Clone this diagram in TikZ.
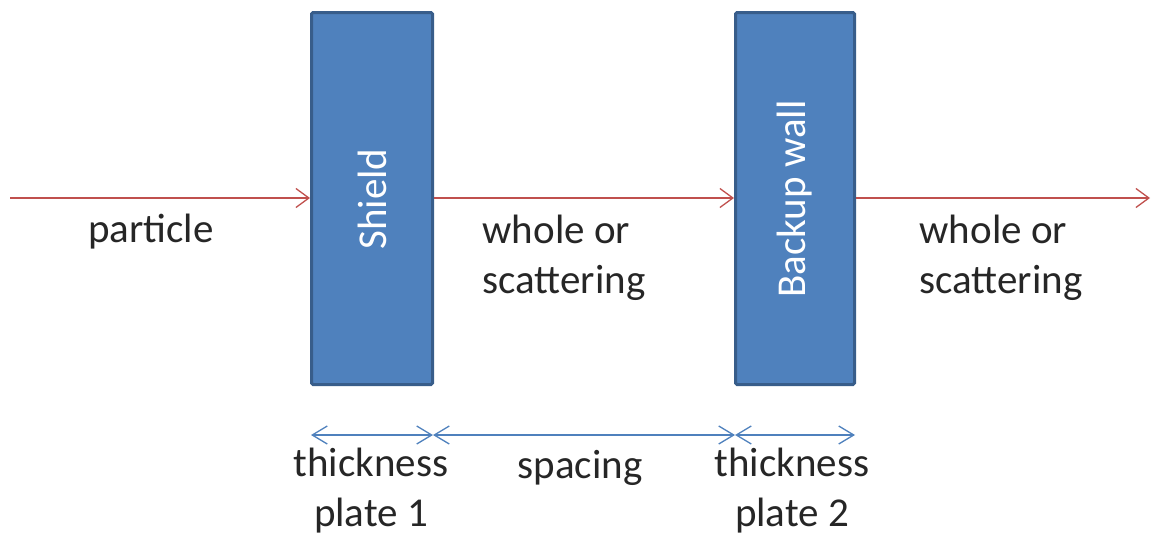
\documentclass[tikz,border=0pt]{standalone}
\usepackage{fontspec}
\setmainfont{Carlito}
\usetikzlibrary{arrows.meta}
\definecolor{plateblue}{HTML}{4F81BD}
\definecolor{plateedge}{HTML}{385D8A}
\definecolor{beamred}{HTML}{C0504D}
\tikzset{>={Straight Barb[length=13pt,width=19pt]}}
\tikzset{
  plate/.style={draw=plateedge,line width=3pt,fill=plateblue,rounded corners=1.5pt},
  beam/.style={draw=beamred,line width=1.3pt,->},
  dim/.style={draw=plateblue,line width=1.3pt,{Straight Barb[length=15pt,width=18pt]}-{Straight Barb[length=15pt,width=18pt]}},
  lbl/.style={font=\fontsize{41}{50}\selectfont,align=center,text=black!85}
}
\begin{document}
\begin{tikzpicture}[x=1pt,y=-1pt]
\useasboundingbox (0,0) rectangle (1151,538);
% plates
\draw[plate] (311.5,12.5) rectangle (432.5,384.5);
\draw[plate] (735.5,12.5) rectangle (854.5,384.5);
\node[lbl,text=white,rotate=90] (shield) at (372,199) {Shield};
\node[lbl,text=white,rotate=90] (wall) at (795,199) {Backup wall};
% beam
\coordinate (in) at (10,198);
\coordinate (s1) at (310,198);
\coordinate (s2) at (434,198);
\coordinate (w1) at (734,198);
\coordinate (w2) at (856,198);
\coordinate (out) at (1150,198);
\draw[beam] (in) -- (s1);
\draw[beam] (s2) -- (w1);
\draw[beam] (w2) -- (out);
\node[lbl] (part) at (151,232) {particle};
\node[lbl,align=left] (sc1) at (564,258) {whole or\\scattering};
\node[lbl,align=left] (sc2) at (1001,258) {whole or\\scattering};
% dimensions
\coordinate (d0) at (311,435);
\coordinate (d1) at (433,435);
\coordinate (d2) at (735,435);
\coordinate (d3) at (855,435);
\draw[dim] (d0) -- (d1);
\draw[dim] (d1) -- (d2);
\draw[dim] (d2) -- (d3);
\node[lbl] (th1) at (371,491) {thickness\\plate 1};
\node[lbl] (sp) at (580,468) {spacing};
\node[lbl] (th2) at (792,491) {thickness\\plate 2};
\end{tikzpicture}
\end{document}
